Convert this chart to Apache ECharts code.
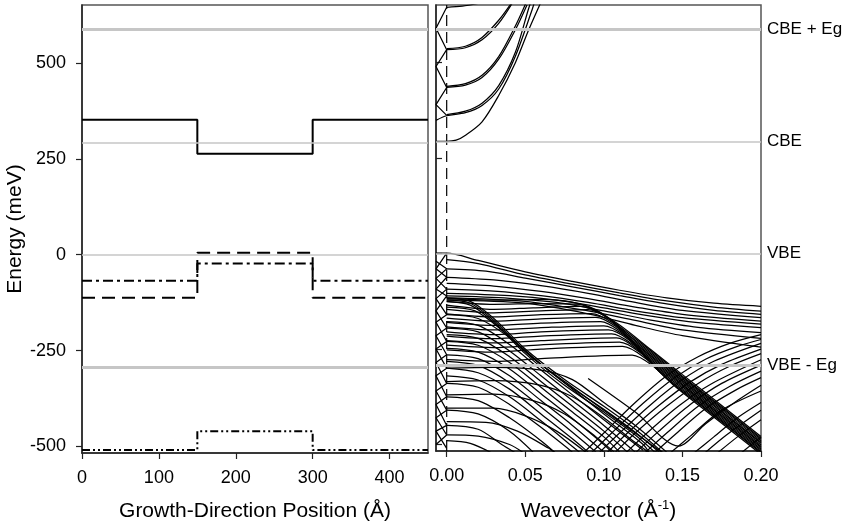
<!DOCTYPE html>
<html><head><meta charset="utf-8">
<script src="https://cdn.jsdelivr.net/npm/echarts@6/dist/echarts.min.js"></script>
<style>html,body{margin:0;padding:0;background:#fff}#c{width:850px;height:527px}</style>
</head><body><div id="c"></div>
<script>
// ---------- reference levels ----------
const refLevels = [587, 293, 0, -293];
const refNames = ['CBE + Eg', 'CBE', 'VBE', 'VBE - Eg'];
const yTicks = [-500, -250, 0, 250, 500];
const xTicksLeft = [0, 100, 200, 300, 400];
const xTicksRight = [0, 0.05, 0.10, 0.15, 0.20];

// ---------- left panel: band-edge profiles (position Å, energy meV) ----------
const cbProfile = [[0,352],[150,352],[150,263],[300,263],[300,352],[450,352]];
const hhProfile = [[0,-112],[150,-112],[150,5],[300,5],[300,-112],[450,-112]];
const lhProfile = [[0,-68],[150,-68],[150,-23],[300,-23],[300,-68],[450,-68]];
const soProfile = [[0,-509],[150,-509],[150,-460],[300,-460],[300,-509],[450,-509]];

// ---------- right panel: dispersions (k 1/Å, energy meV) ----------
const kZeroLine = [[0,-517],[0,651]];
const cbBands = [
  [[-0.0068,294],[0,294],[0.006,297],[0.012,310],[0.0225,345],[0.0331,414],[0.0437,500],[0.0522,586],[0.0596,655]],
  [[-0.0068,349],[0,361],[0.0119,369],[0.0225,388],[0.0331,431],[0.0437,517],[0.0543,638],[0.0556,655]],
  [[0,364],[0.0119,373],[0.0225,394],[0.0331,440],[0.0437,527],[0.052,640],[0.0532,655]],
  [[0,435],[0.0119,441],[0.0225,461],[0.0331,509],[0.0437,586],[0.0511,651]],
  [[0,438],[0.0119,445],[0.0225,467],[0.0331,516],[0.0437,596],[0.0503,655]],
  [[0,534],[0.0119,539],[0.0225,560],[0.0331,603],[0.0416,655]],
  [[0,537],[0.0119,543],[0.0225,566],[0.0331,611],[0.041,655]],
  [[0,645],[0.01,648],[0.02,655]]
];
const cbFold = [[0,645],[-0.0068,590],[0,534],[-0.0068,490],[0,435],[-0.0068,390],[0,362]];
const vbFoldA = [[0,1],[-0.0068,-40],[0,-62],[-0.0068,-93],[0,-111],[-0.0068,-150],[0,-195],[-0.0068,-215],[0,-265],[-0.0068,-285],[0,-340],[-0.0068,-360],[0,-410],[-0.0068,-430],[0,-475],[-0.0068,-500]];
const vbFoldB = [[-0.0068,-20],[0,-40],[-0.0068,-65],[0,-93],[-0.0068,-118],[0,-160],[-0.0068,-180],[0,-230],[-0.0068,-250],[0,-300],[-0.0068,-320],[0,-375],[-0.0068,-395],[0,-450],[-0.0068,-465],[0,-510]];
const vbTop = [
  [[-0.0068,1],[0,1],[0.02,-18],[0.05,-48],[0.08,-73],[0.11,-96],[0.14,-116],[0.17,-130],[0.2,-138]],
  [[0,-16],[0.02,-26],[0.05,-56],[0.08,-80],[0.11,-103],[0.14,-124],[0.17,-140],[0.2,-151]],
  [[0,-40],[0.025,-46],[0.05,-64],[0.08,-87],[0.11,-110],[0.14,-132],[0.17,-149],[0.2,-159]],
  [[0,-62],[0.03,-69],[0.06,-84],[0.09,-104],[0.12,-128],[0.15,-149],[0.2,-168]],
  [[0,-78],[0.03,-85],[0.06,-99],[0.09,-118],[0.12,-140],[0.15,-159],[0.2,-177]],
  [[0,-93],[0.03,-98],[0.06,-110],[0.09,-128],[0.12,-150],[0.15,-168],[0.2,-185]],
  [[0,-104],[0.04,-110],[0.07,-122],[0.1,-142],[0.13,-164],[0.16,-181],[0.2,-194]],
  [[0,-111],[0.04,-117],[0.07,-128],[0.1,-150],[0.13,-174],[0.16,-193],[0.2,-207]],
  [[0,-116],[0.05,-125],[0.09,-150],[0.12,-175],[0.15,-200],[0.2,-222]],
  [[0,-121],[0.05,-130],[0.09,-158],[0.12,-188],[0.15,-215],[0.2,-245]]
];
const vbArcs = [
  [[0,-116],[0.03,-122],[0.06,-120],[0.08,-127],[0.093,-145],[0.11,-187],[0.13,-252],[0.15,-317],[0.175,-398],[0.2,-479]],
  [[0,-125],[0.03,-133],[0.06,-131],[0.085,-133],[0.097,-152],[0.11,-191],[0.13,-255],[0.15,-321],[0.175,-402],[0.2,-483]],
  [[0,-135],[0.03,-146],[0.055,-142],[0.085,-138],[0.1,-162],[0.115,-211],[0.13,-259],[0.15,-324],[0.175,-405],[0.2,-486]],
  [[0,-146],[0.03,-155],[0.06,-150],[0.09,-147],[0.103,-170],[0.12,-230],[0.14,-295],[0.16,-360],[0.18,-425],[0.2,-490]],
  [[0,-158],[0.03,-166],[0.06,-160],[0.092,-157],[0.105,-180],[0.12,-234],[0.14,-299],[0.16,-364],[0.18,-429],[0.2,-494]],
  [[0,-169],[0.03,-177],[0.06,-171],[0.095,-167],[0.108,-192],[0.12,-237],[0.14,-302],[0.16,-367],[0.18,-432],[0.2,-497]],
  [[0,-180],[0.03,-188],[0.06,-182],[0.098,-178],[0.11,-202],[0.125,-257],[0.14,-306],[0.16,-371],[0.18,-436],[0.2,-501]],
  [[0,-192],[0.03,-200],[0.06,-194],[0.1,-189],[0.113,-214],[0.125,-261],[0.145,-326],[0.16,-375],[0.18,-440],[0.2,-505]],
  [[0,-205],[0.03,-212],[0.06,-205],[0.103,-200],[0.116,-226],[0.13,-281],[0.145,-329],[0.16,-378],[0.18,-443],[0.2,-508]],
  [[0,-216],[0.03,-223],[0.06,-216],[0.105,-210],[0.118,-237],[0.13,-284],[0.15,-349],[0.17,-414],[0.2,-512]],
  [[0,-228],[0.03,-234],[0.06,-228],[0.108,-221],[0.121,-250],[0.135,-304],[0.15,-353],[0.17,-418],[0.2,-515]],
  [[0,-240],[0.03,-246],[0.06,-239],[0.11,-232],[0.124,-262],[0.135,-308],[0.155,-373],[0.175,-438],[0.2,-519]],
  [[0,-252],[0.03,-258],[0.06,-250],[0.112,-243],[0.127,-276],[0.14,-328],[0.16,-392],[0.18,-457],[0.2,-522]],
  [[0,-278],[0.03,-282],[0.06,-275],[0.118,-266],[0.133,-300],[0.145,-347],[0.165,-412],[0.185,-477],[0.2,-526]]
];
const vbFall = [
  [[0,-118],[0.015,-125],[0.03,-170],[0.05,-250],[0.075,-330],[0.1,-400],[0.12,-460],[0.14,-530]],
  [[0,-122],[0.015,-130],[0.03,-175],[0.05,-256],[0.075,-338],[0.1,-408],[0.12,-468],[0.138,-530]],
  [[0,-126],[0.015,-135],[0.03,-180],[0.05,-262],[0.075,-345],[0.1,-415],[0.12,-475],[0.135,-530]],
  [[0,-140],[0.018,-150],[0.035,-200],[0.055,-275],[0.08,-350],[0.1,-410],[0.125,-485],[0.14,-530]],
  [[0,-160],[0.02,-170],[0.04,-220],[0.06,-290],[0.08,-355],[0.1,-420],[0.125,-500],[0.13,-530]],
  [[0,-178],[0.02,-188],[0.04,-238],[0.06,-305],[0.08,-370],[0.1,-435],[0.125,-515]],
  [[0,-195],[0.02,-205],[0.04,-255],[0.06,-320],[0.08,-385],[0.1,-450],[0.12,-520]],
  [[0,-212],[0.02,-222],[0.04,-270],[0.06,-335],[0.08,-400],[0.1,-465],[0.115,-520]],
  [[0,-230],[0.02,-240],[0.04,-285],[0.06,-350],[0.08,-415],[0.1,-480],[0.11,-520]],
  [[0,-248],[0.02,-258],[0.04,-302],[0.06,-367],[0.08,-432],[0.1,-500],[0.105,-520]],
  [[0,-265],[0.02,-275],[0.04,-320],[0.06,-385],[0.08,-450],[0.1,-520]],
  [[0,-282],[0.02,-293],[0.04,-338],[0.06,-402],[0.08,-468],[0.095,-520]],
  [[0,-300],[0.02,-312],[0.04,-355],[0.06,-420],[0.08,-485],[0.09,-520]],
  [[0,-320],[0.02,-331],[0.04,-375],[0.06,-438],[0.08,-505],[0.085,-522]],
  [[0,-340],[0.02,-350],[0.04,-395],[0.06,-455],[0.08,-520]],
  [[0,-375],[0.02,-385],[0.04,-430],[0.06,-490],[0.07,-525]],
  [[0,-410],[0.02,-420],[0.04,-465],[0.055,-520]],
  [[0,-450],[0.02,-460],[0.035,-500],[0.045,-525]],
  [[0,-490],[0.015,-497],[0.03,-525]]
];
const vbLow = [
  [[0,-300],[0.03,-298],[0.06,-305],[0.08,-330],[0.1,-390],[0.12,-450],[0.14,-520]],
  [[0,-335],[0.03,-333],[0.06,-345],[0.08,-375],[0.1,-430],[0.12,-495],[0.13,-525]],
  [[0,-370],[0.03,-368],[0.055,-385],[0.075,-420],[0.095,-480],[0.108,-525]],
  [[0,-405],[0.03,-405],[0.05,-425],[0.07,-465],[0.09,-525]],
  [[0,-440],[0.025,-442],[0.045,-465],[0.065,-510],[0.07,-525]],
  [[0,-475],[0.02,-478],[0.04,-500],[0.05,-525]]
];
const vbRise = [
  [[0.085,-530],[0.1,-470],[0.12,-390],[0.14,-320],[0.16,-270],[0.18,-235],[0.2,-212]],
  [[0.09,-530],[0.105,-470],[0.125,-392],[0.145,-325],[0.165,-276],[0.185,-243],[0.2,-225]],
  [[0.095,-530],[0.11,-470],[0.13,-395],[0.15,-330],[0.17,-282],[0.2,-235]],
  [[0.1,-530],[0.115,-470],[0.135,-398],[0.155,-336],[0.175,-290],[0.2,-250]],
  [[0.105,-530],[0.12,-470],[0.14,-400],[0.16,-340],[0.18,-295],[0.2,-262]],
  [[0.112,-530],[0.128,-468],[0.148,-398],[0.168,-342],[0.2,-278]],
  [[0.118,-530],[0.135,-465],[0.155,-395],[0.175,-340],[0.2,-292]],
  [[0.124,-530],[0.14,-470],[0.16,-400],[0.18,-348],[0.2,-308]],
  [[0.13,-530],[0.145,-475],[0.165,-405],[0.185,-355],[0.2,-325]],
  [[0.09,-327],[0.12,-415],[0.1475,-504],[0.165,-445],[0.185,-385],[0.2,-345]],
  [[0.14,-530],[0.155,-478],[0.175,-410],[0.2,-360]],
  [[0.155,-530],[0.17,-480],[0.185,-430],[0.2,-390]],
  [[0.162,-530],[0.178,-475],[0.2,-410]],
  [[0.17,-530],[0.185,-480],[0.2,-435]],
  [[0.185,-530],[0.2,-480]]
];

// ---------- chart ----------
const FONT = '"Liberation Sans", Arial, Helvetica, sans-serif';
const chart = echarts.init(document.getElementById('c'), null, {renderer: 'canvas'});

function bandSeries(arr, smooth) {
  return arr.map(d => ({
    type: 'line', xAxisIndex: 1, yAxisIndex: 1, data: d, showSymbol: false, symbol: 'none',
    smooth: smooth, silent: true, animation: false, z: 3,
    lineStyle: {color: '#000', width: 1.25}
  }));
}
function refSeries(idx, withLabels) {
  return {
    type: 'line', xAxisIndex: idx, yAxisIndex: idx, data: [], silent: true, animation: false, z: 6,
    markLine: {
      silent: true, symbol: ['none', 'none'], animation: false,
      data: refLevels.map((v, i) => ({
        yAxis: v,
        lineStyle: {color: '#c6c6c6', type: 'solid', width: (i === 0 || i === 3) ? 3 : 1.6},
        label: withLabels ? {show: true, position: 'end', formatter: refNames[i], color: '#000',
          fontSize: 17, fontFamily: FONT, distance: 6} : {show: false}
      }))
    }
  };
}
function profile(d, type, width) {
  return {type: 'line', xAxisIndex: 0, yAxisIndex: 0, data: d, showSymbol: false, symbol: 'none',
    silent: true, animation: false, z: 3, lineStyle: {color: '#000', width: width, type: type}};
}

const axisCommon = {
  axisLine: {show: true, onZero: false, lineStyle: {color: '#222', width: 1.5}},
  splitLine: {show: false}
};
const option = {
  backgroundColor: '#fff',
  animation: false,
  grid: [
    {left: 82, top: 5, width: 346, height: 452, show: true, borderColor: '#555', borderWidth: 1.5},
    {left: 436, top: 5, width: 325, height: 452, show: true, borderColor: '#555', borderWidth: 1.5}
  ],
  xAxis: [
    Object.assign({}, axisCommon, {
      type: 'value', gridIndex: 0, min: 0, max: 450,
      axisTick: {show: true, length: 6, customValues: xTicksLeft, lineStyle: {color: '#222', width: 1.2}},
      axisLabel: {customValues: xTicksLeft, fontSize: 18, color: '#000', margin: 16, fontFamily: FONT},
      name: 'Growth-Direction Position (Å)', nameLocation: 'middle', nameGap: 48,
      nameTextStyle: {fontSize: 21, color: '#000', fontFamily: FONT}
    }),
    Object.assign({}, axisCommon, {
      type: 'value', gridIndex: 1, min: -0.0068, max: 0.2,
      axisTick: {show: true, length: 6, customValues: xTicksRight, lineStyle: {color: '#222', width: 1.2}},
      axisLabel: {customValues: xTicksRight, fontSize: 18, color: '#000', margin: 16, fontFamily: FONT,
        formatter: v => v.toFixed(2)},
      name: '{a|Wavevector (Å}{s|-1}{a|)}', nameLocation: 'middle', nameGap: 48,
      nameTextStyle: {fontFamily: FONT, rich: {
        a: {fontSize: 21, color: '#000', fontFamily: FONT},
        s: {fontSize: 13, color: '#000', fontFamily: FONT, padding: [0, 0, 12, 0]}
      }}
    })
  ],
  yAxis: [
    Object.assign({}, axisCommon, {
      type: 'value', gridIndex: 0, min: -517, max: 651,
      axisTick: {show: true, length: 6, customValues: yTicks, lineStyle: {color: '#222', width: 1.2}},
      axisLabel: {customValues: yTicks, fontSize: 18, color: '#000', margin: 16, fontFamily: FONT},
      name: 'Energy (meV)', nameLocation: 'middle', nameGap: 56,
      nameTextStyle: {fontSize: 21, color: '#000', fontFamily: FONT}
    }),
    Object.assign({}, axisCommon, {
      type: 'value', gridIndex: 1, min: -517, max: 651,
      axisTick: {show: true, inside: true, length: 6, customValues: yTicks, lineStyle: {color: '#222', width: 1.2}},
      axisLabel: {show: false}
    })
  ],
  series: [].concat(
    [profile(cbProfile, 'solid', 2), profile(hhProfile, [13, 7], 2),
     profile(lhProfile, [10, 4, 3, 4], 2), profile(soProfile, [8, 3, 2, 3, 2, 3], 2)],
    [{type: 'line', xAxisIndex: 1, yAxisIndex: 1, data: kZeroLine, showSymbol: false, symbol: 'none',
      silent: true, animation: false, z: 2, lineStyle: {color: '#000', width: 1.2, type: [11, 6]}}],
    bandSeries(cbBands, 0.3),
    bandSeries([cbFold, vbFoldA, vbFoldB], false),
    bandSeries(vbTop, 0.3),
    bandSeries(vbArcs, 0.3),
    bandSeries(vbFall, 0.3),
    bandSeries(vbLow, 0.3),
    bandSeries(vbRise, 0.3),
    [refSeries(0, false), refSeries(1, true)]
  )
};
chart.setOption(option);
</script></body></html>
